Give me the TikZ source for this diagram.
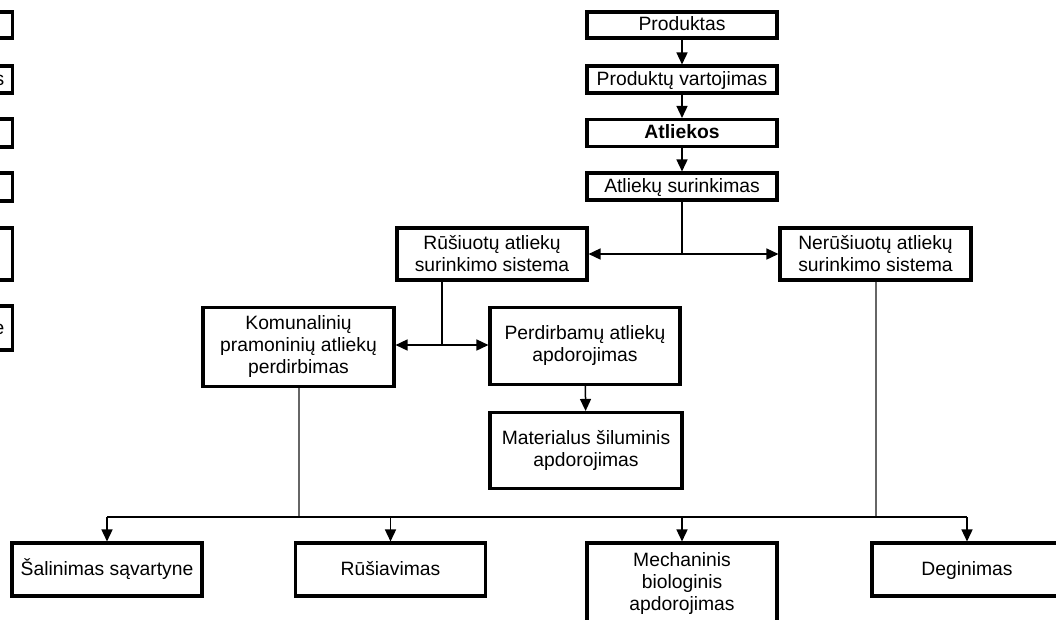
\documentclass[tikz,border=0pt]{standalone}
\usepackage{fontspec}
\setmainfont{Liberation Sans}
\usetikzlibrary{arrows.meta}
\begin{document}
\begin{tikzpicture}[x=1pt,y=-1pt,
  box/.style={draw, line width=3.1pt, inner sep=0pt, align=center,
    minimum width=190pt, font=\fontsize{19.3}{22}\selectfont},
  onel/.style={text height=15pt, text depth=3.5pt},
  conn/.style={line width=1.5pt, -{Triangle[length=12pt,width=11pt]}},
  plainline/.style={line width=1.5pt},
  grayline/.style={line width=2pt, color=black!60},
  frag/.style={draw, line width=3.1pt}]
\clip (0,0) rectangle (1056,619);
\useasboundingbox (0,0) rectangle (1056,619);

% cut-off boxes at the left edge
\draw[frag] (-60,12) rectangle (12.5,38);
\draw[frag] (-60,66) rectangle (12.5,93);
\draw[frag] (-60,119) rectangle (12.5,147);
\draw[frag] (-60,173) rectangle (12.5,201);
\draw[frag] (-60,228) rectangle (12.5,280);
\draw[frag] (-60,306) rectangle (12.5,350);
\node[anchor=base east, inner sep=0pt, font=\fontsize{19.3}{22}\selectfont] (fs) at (4.5,85) {s};
\node[anchor=base east, inner sep=0pt, font=\fontsize{19.3}{22}\selectfont] (fe) at (4.5,334) {e};

% top chain
\node[box, onel, minimum height=26pt] (prod) at (682,25) {Produktas};
\node[box, onel, minimum height=27pt] (vart) at (682,79.5) {Produktų vartojimas};
\node[box, onel, minimum height=27pt, font=\fontsize{19.3}{22}\selectfont\bfseries] (atl) at (682,133) {Atliekos};
\node[box, onel, minimum height=27pt] (sur) at (682,186.5) {Atliekų surinkimas};

\node[box, minimum height=52pt] (rus) at (492,254) {Rūšiuotų atliekų\\surinkimo sistema};
\node[box, minimum width=191pt, minimum height=52pt] (nerus) at (875.5,254) {Nerūšiuotų atliekų\\surinkimo sistema};

\node[box, minimum width=191pt, minimum height=79pt] (kom) at (298.5,347) {Komunalinių\\pramoninių atliekų\\perdirbimas};
\node[box, minimum height=77pt] (perd) at (585,346) {Perdirbamų atliekų\\apdorojimas};
\node[box, minimum width=192pt, minimum height=76pt] (mat) at (586,450.5) {Materialus šiluminis\\apdorojimas};

\node[box, onel, minimum height=53pt] (sal) at (107,569.5) {Šalinimas sąvartyne};
\node[box, onel, minimum height=53pt] (rusv) at (390.5,569.5) {Rūšiavimas};
\node[box, minimum height=80pt] (mech) at (682,583) {Mechaninis\\biologinis\\apdorojimas};
\node[box, onel, minimum height=53pt] (deg) at (967,569.5) {Deginimas};

% junctions
\coordinate (j1) at (682,254);
\coordinate (j2) at (442,345);
\coordinate (bus) at (0,517);

% connectors
\draw[conn] (prod) -- (vart);
\draw[conn] (vart) -- (atl);
\draw[conn] (atl) -- (sur);
\draw[plainline] (sur) -- (j1);
\draw[conn] (j1) -- (rus);
\draw[conn] (j1) -- (nerus);
\draw[plainline] (j2 |- rus.south) -- (j2);
\draw[conn] (j2) -- (kom.east |- j2);
\draw[conn] (j2) -- (perd.west |- j2);
\draw[conn] (perd) -- (mat);

\draw[grayline] (kom.south) -- (kom.south |- bus);
\draw[grayline] (nerus.south) -- (nerus.south |- bus);
\draw[plainline] (sal.north |- bus) -- (deg.north |- bus);
\draw[conn] (sal.north |- bus) -- (sal.north);
\draw[conn] (rusv.north |- bus) -- (rusv.north);
\draw[conn] (mech.north |- bus) -- (mech.north);
\draw[conn] (deg.north |- bus) -- (deg.north);
\end{tikzpicture}
\end{document}
